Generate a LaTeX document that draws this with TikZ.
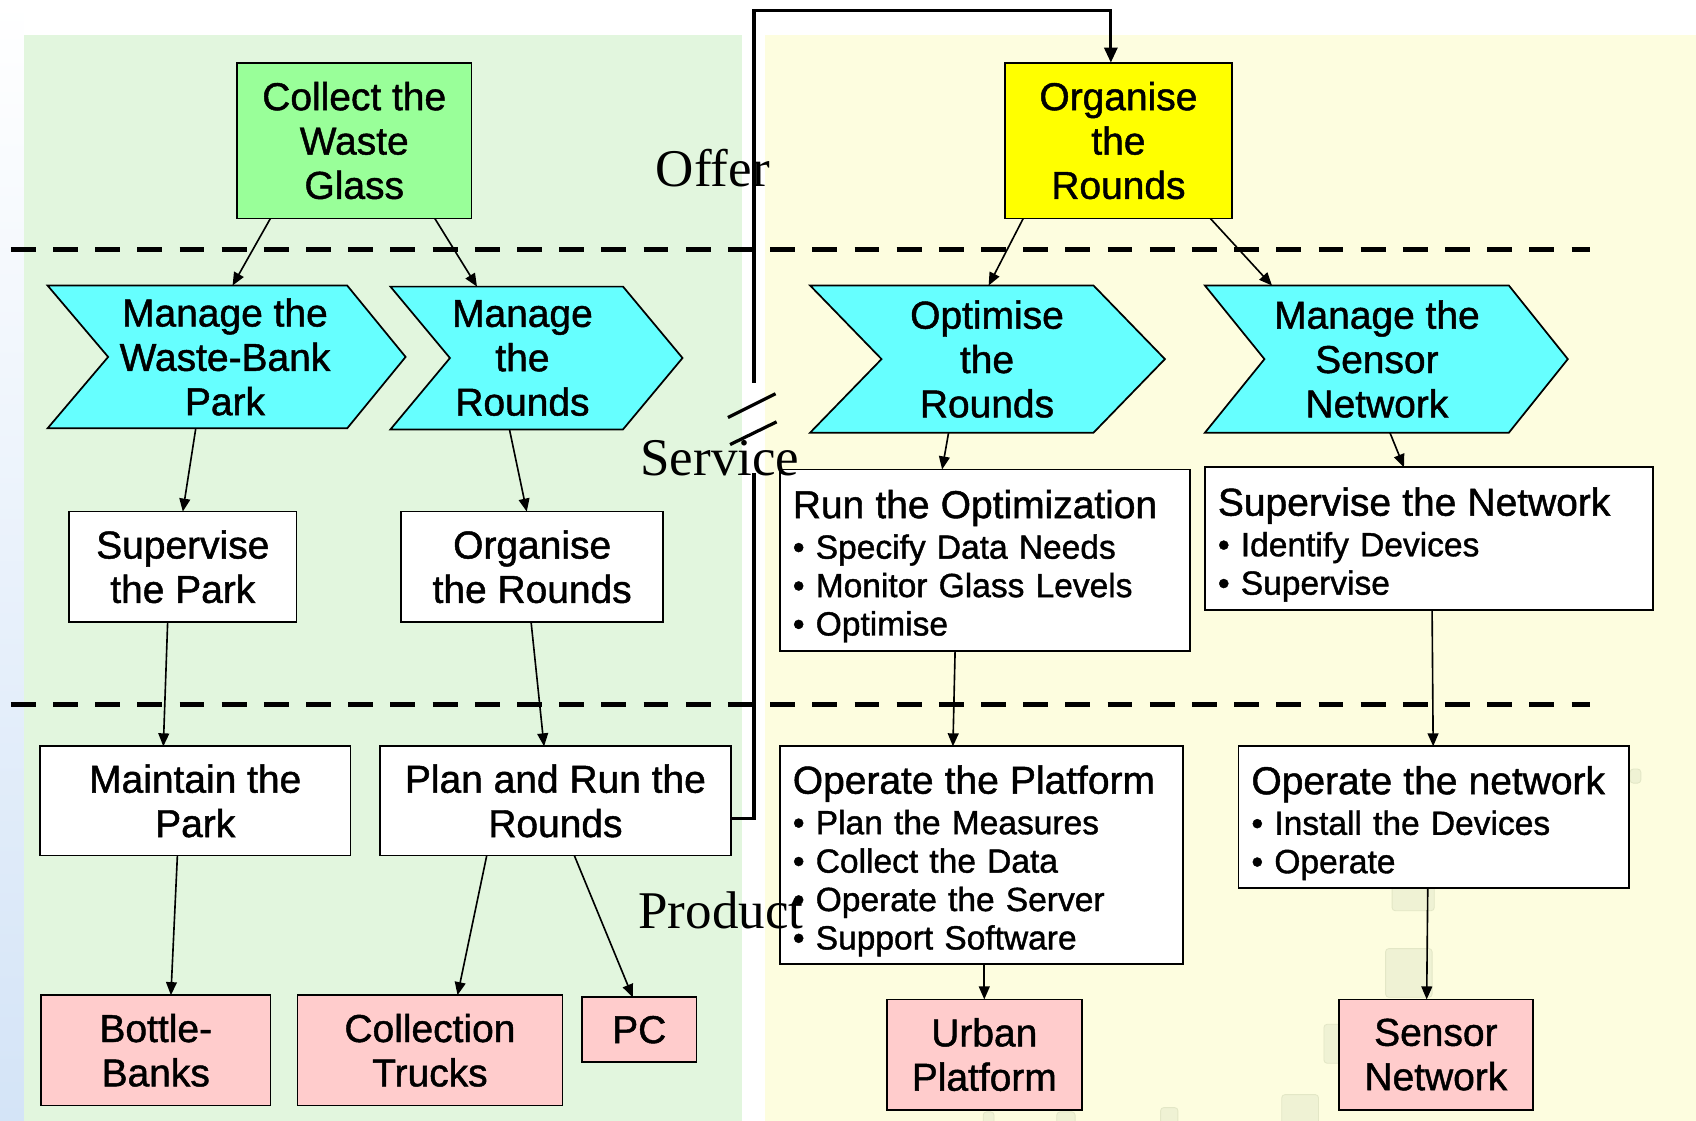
\documentclass[tikz,border=0pt]{standalone}
\usepackage{fontspec}
\setmainfont{Liberation Sans}[RawFeature={embolden=1.2}]
\newfontfamily\labelserif{Liberation Serif}
\usetikzlibrary{arrows.meta,calc}

\definecolor{panelgreen}{HTML}{E2F6DE}
\definecolor{panelyellow}{HTML}{FDFDDF}
\definecolor{stripblue}{HTML}{D4E4F7}
\definecolor{boxgreen}{HTML}{99FF99}
\definecolor{boxyellow}{HTML}{FFFF00}
\definecolor{chevcyan}{HTML}{66FFFF}
\definecolor{boxpink}{HTML}{FFCCCC}
\definecolor{ghostfill}{HTML}{EFF2D4}
\definecolor{ghostedge}{HTML}{E3E7C6}

\pgfdeclarelayer{bg}
\pgfdeclarelayer{shapes}
\pgfsetlayers{bg,shapes,main}

% list title, with a strut that lowers the whole list a little
\newcommand\ttl[1]{{\fontsize{18}{20.5}\selectfont\rule{0pt}{18.5pt}#1}}
% chevron outline: left x, notch depth, right x, tip depth, top y, bottom y
\newcommand\chevshape[6]{%
  \draw[chevron] (#1,#5) -- ({#3-#4},#5) -- (#3,{(#5+#6)/2}) -- ({#3-#4},#6)
    -- (#1,#6) -- ({#1+#2},{(#5+#6)/2}) -- cycle;}

\tikzset{
  base/.style={inner sep=0pt, outer sep=0pt, align=center,
    font=\fontsize{18}{20.5}\selectfont},
  plainbox/.style={base, draw, line width=0.8pt, fill=white},
  greenbox/.style={plainbox, fill=boxgreen},
  yellowbox/.style={plainbox, fill=boxyellow},
  pinkbox/.style={plainbox, fill=boxpink},
  chevnode/.style={base},
  chevron/.style={draw, line width=0.8pt, fill=chevcyan},
  listbox/.style={plainbox, align=left, font=\fontsize{15.5}{17.75}\selectfont},
  link/.style={line width=0.75pt, -{Triangle[length=6pt,width=5pt]}},
  feedback/.style={line width=1.5pt},
  tierline/.style={line width=2.2pt, dash pattern=on 11.5pt off 8pt},
  tierlabel/.style={font=\labelserif\fontsize{24.5}{24.5}\selectfont,
    inner sep=0pt, anchor=base},
  ghost/.style={fill=ghostfill, draw=ghostedge, line width=0.4pt, rounded corners=1.5pt},
}

\begin{document}
\begin{tikzpicture}[x=0.5pt,y=-0.5pt]
\useasboundingbox (0,0) rectangle (1568,1036);

% background panels
\begin{pgfonlayer}{bg}
  \fill[white] (0,0) rectangle (1568,1036);
  \shade[top color=white, bottom color=stripblue] (0,0) rectangle (22,1036);
  \fill[panelgreen] (22,32) rectangle (686,1036);
  \fill[panelyellow] (707,32) rectangle (1568,1036);
  \path[ghost] (1287,800) rectangle (1326,842);
  \path[ghost] (1281,877) rectangle (1324,922);
  \path[ghost] (1224,947) rectangle (1240,983);
  \path[ghost] (1185,1012) rectangle (1219,1040);
  \path[ghost] (1073,1024) rectangle (1089,1040);
  \path[ghost] (977,1028) rectangle (994,1040);
  \path[ghost] (909,1028) rectangle (919,1040);
  \path[ghost] (1507,711) rectangle (1517,724);
\end{pgfonlayer}

% tier separators
\draw[tierline] (10,231) -- (1470,231);
\draw[tierline] (10,651) -- (1470,651);

% offer level
\node[greenbox, minimum width=108.5pt, minimum height=72pt] (collect) at (327.5,130)
  {Collect the\\Waste\\Glass};
\node[yellowbox, minimum width=105pt, minimum height=72pt] (orgR) at (1034,130)
  {Organise\\the\\Rounds};

% service level: chevrons
\begin{pgfonlayer}{shapes}
  \chevshape{44}{56}{375}{54}{264}{396}
  \chevshape{361}{55}{631}{55}{265}{397}
  \chevshape{749}{66}{1077}{66}{264}{400}
  \chevshape{1114}{55}{1449.5}{54.5}{264}{400}
\end{pgfonlayer}
\node[chevnode, minimum width=165.5pt, minimum height=66pt] (c1) at (208,330)
  {Manage the\\Waste-Bank\\Park};
\node[chevnode, minimum width=134.5pt, minimum height=66pt] (c2) at (483,331)
  {Manage\\the\\Rounds};
\node[chevnode, minimum width=162.5pt, minimum height=68pt] (c3) at (912.5,332)
  {Optimise\\the\\Rounds};
\node[chevnode, minimum width=167.5pt, minimum height=68pt] (c4) at (1273,332)
  {Manage the\\Sensor\\Network};

% service level: activities
\node[plainbox, minimum width=105pt, minimum height=51pt] (supPark) at (169,524)
  {Supervise\\the Park};
\node[plainbox, minimum width=121pt, minimum height=51pt] (orgW) at (492,524)
  {Organise\\the Rounds};
\node[listbox, minimum width=189.5pt, minimum height=84pt, text width=177.5pt]
  (runopt) at (910.5,518)
  {\ttl{Run the Optimization}\\[1pt]• Specify Data Needs\\• Monitor Glass Levels\\• Optimise};
\node[listbox, minimum width=207pt, minimum height=66pt, text width=195pt]
  (supNet) at (1321,498)
  {\ttl{Supervise the Network}\\[1pt]• Identify Devices\\• Supervise};

% product level: activities
\node[plainbox, minimum width=143.5pt, minimum height=50.5pt] (maint) at (180.5,740.5)
  {Maintain the\\Park};
\node[plainbox, minimum width=162.5pt, minimum height=50.5pt] (plan) at (513.5,740.5)
  {Plan and Run the\\Rounds};
\node[listbox, minimum width=186.5pt, minimum height=100.5pt, text width=174.5pt]
  (opPlat) at (907.5,790.5)
  {\ttl{Operate the Platform}\\[1pt]• Plan the Measures\\• Collect the Data\\• Operate the Server\\• Support Software};
\node[listbox, minimum width=180.5pt, minimum height=65.5pt, text width=168.5pt]
  (opNet) at (1325.5,755.5)
  {\ttl{Operate the network}\\[1pt]• Install the Devices\\• Operate};

% product level: resources
\node[pinkbox, minimum width=106pt, minimum height=51pt] (bottle) at (144,971)
  {Bottle-\\Banks};
\node[pinkbox, minimum width=122.5pt, minimum height=51pt] (trucks) at (397.5,971)
  {Collection\\Trucks};
\node[pinkbox, minimum width=53pt, minimum height=30pt] (pc) at (591,952) {PC};
\node[pinkbox, minimum width=90pt, minimum height=51pt] (urban) at (910,975)
  {Urban\\Platform};
\node[pinkbox, minimum width=89.5pt, minimum height=51pt] (sensor) at (1327.5,975)
  {Sensor\\Network};

% connectors
\draw[link] ($(collect.south)+(-77.5,0)$) -- ($(c1.north)+(7,0)$);
\draw[link] ($(collect.south)+(74.5,0)$) -- ($(c2.north)+(-42,0)$);
\draw[link] ($(orgR.south)+(-88,0)$) -- ($(c3.north)+(1.5,0)$);
\draw[link] ($(orgR.south)+(85,0)$) -- ($(c4.north)+(-97,0)$);
\draw[link] ($(c1.south)+(-27,0)$) -- (supPark.north);
\draw[link] ($(c2.south)+(-12,0)$) -- ($(orgW.north)+(-5,0)$);
\draw[link] ($(c3.south)+(-35.5,0)$) -- ($(runopt.north)+(-39.5,0)$);
\draw[link] ($(c4.south)+(12,0)$) -- ($(supNet.north)+(-23,0)$);
\draw[link] ($(supPark.south)+(-14,0)$) -- ($(maint.north)+(-29.5,0)$);
\draw[link] ($(orgW.south)+(-1,0)$) -- ($(plan.north)+(-10.5,0)$);
\draw[link] ($(runopt.south)+(-27.5,0)$) -- ($(opPlat.north)+(-26.5,0)$);
\draw[link] ($(supNet.south)+(3,0)$) -- ($(opNet.north)+(-0.5,0)$);
\draw[link] ($(maint.south)+(-16.5,0)$) -- ($(bottle.north)+(14,0)$);
\draw[link] ($(plan.south)+(-63.5,0)$) -- ($(trucks.north)+(25.5,0)$);
\draw[link] ($(plan.south)+(17.5,0)$) -- ($(pc.north)+(-6,0)$);
\draw[link] ($(opPlat.south)+(2.5,0)$) -- ($(urban.north)+(0,0)$);
\draw[link] ($(opNet.south)+(-5.5,0)$) -- ($(sensor.north)+(-8.5,0)$);

% feedback from the rounds to their organisation, with a break mark
\coordinate (fbLo) at (697,437);
\coordinate (fbHi) at (697,354);
\coordinate (fbTop) at (697,10);
\draw[feedback] ($(plan.east)+(0,16.5)$) -| (fbLo);
\draw[feedback, -{Triangle[length=7pt,width=6pt]}] (fbHi) -- (fbTop)
  -| ($(orgR.north)+(-7,0)$);
\draw[feedback] (673,386) -- (717,364);
\draw[feedback] (675,411) -- (718,390);

% tier labels, set over everything else
\node[tierlabel] (offer) at (659,172) {Offer};
\node[tierlabel] (service) at (665.5,440) {Service};
\node[tierlabel] (product) at (666.5,858) {Product};

\end{tikzpicture}
\end{document}
